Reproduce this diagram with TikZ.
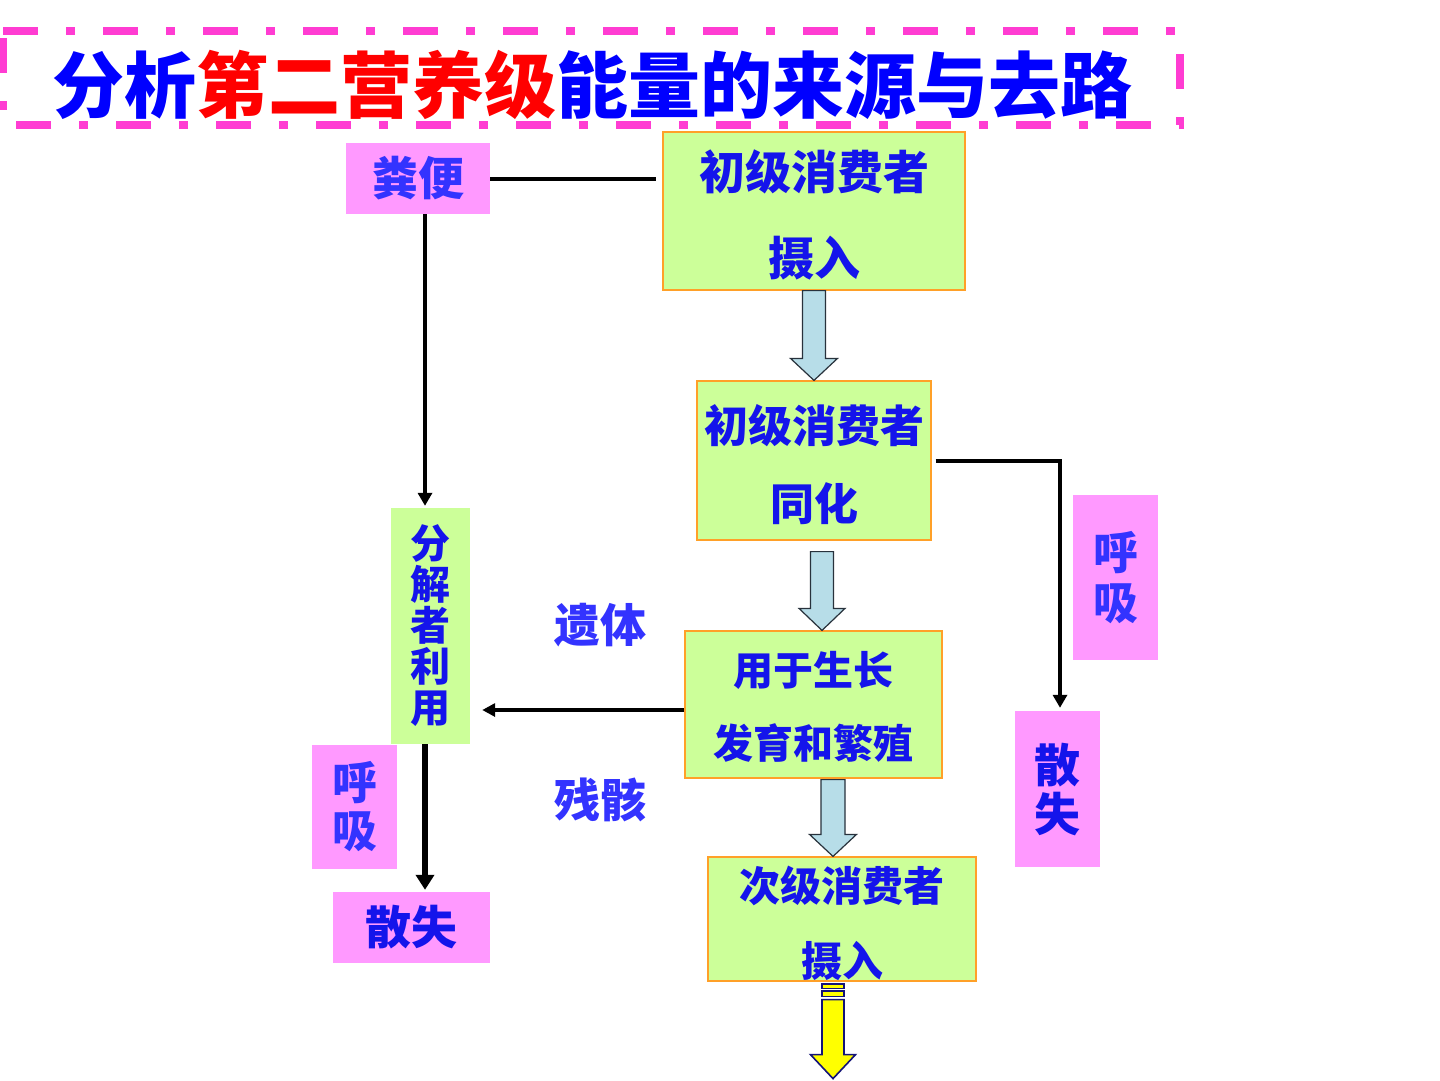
\documentclass[tikz,border=0pt]{standalone}
\usepackage{fontspec}
\newfontfamily\cjk{Noto Sans CJK SC}
\usetikzlibrary{arrows.meta,calc}
\definecolor{boxgreen}{RGB}{204,255,153}
\definecolor{boxedge}{RGB}{255,160,40}
\definecolor{boxpink}{RGB}{255,153,255}
\definecolor{dashpink}{RGB}{255,60,210}
\definecolor{txtblue}{RGB}{20,20,235}
\definecolor{lblblue}{RGB}{51,51,255}
\definecolor{titleblue}{RGB}{0,0,255}
\definecolor{titlered}{RGB}{255,0,0}
\definecolor{fatfill}{RGB}{183,221,232}
\definecolor{fatedge}{RGB}{40,50,60}
\definecolor{yelfill}{RGB}{255,255,0}
\definecolor{yeledge}{RGB}{20,20,120}
% hollow arrow: #1 start, #2 end (y only), #3 style, #4 shaft half, #5 head half, #6 head length
\newcommand\fatarrow[6]{%
  \path[#3] let \p1=#1, \p2=#2 in
    (\x1-#4pt,\y1) -- (\x1+#4pt,\y1) -- (\x1+#4pt,\y2+#6pt) -- (\x1+#5pt,\y2+#6pt)
    -- (\x1,\y2) -- (\x1-#5pt,\y2+#6pt) -- (\x1-#4pt,\y2+#6pt) -- cycle;}
\begin{document}
\begin{tikzpicture}[x=1pt,y=-1pt,
  fnt/.style 2 args={font=\cjk\bfseries\fontsize{#1}{#2}\selectfont},
  greenbox/.style={fill=boxgreen,draw=boxedge,line width=1.2pt,inner sep=0pt,align=center,text=txtblue,text depth=0pt},
  plaingreen/.style={fill=boxgreen,inner sep=0pt,align=center,text=txtblue},
  pinkbox/.style={fill=boxpink,inner sep=0pt,align=center,text=lblblue},
  lbl/.style={inner sep=0pt,text=lblblue},
  conn/.style={line width=4pt,black},
  arr/.style={line width=4pt,black,-{Triangle[width=14pt,length=13pt]}},
  fat/.style={fill=fatfill,draw=fatedge,line width=1.2pt,line join=miter},
  yel/.style={fill=yelfill,draw=yeledge,line width=1.6pt,line join=miter}]
\useasboundingbox (0,0) rectangle (1440,1080);
\fill[white] (0,0) rectangle (1440,1080);

% title
\draw[dashpink,line width=8pt,dash pattern=on 35pt off 28pt on 9pt off 28pt]
  (3,31) -- (1180,31) -- (1180,125) -- (3,125) -- cycle;
\node[inner sep=0pt,fnt={72}{76}] (title) at (592,85)
  {\textcolor{titleblue}{分析}\textcolor{titlered}{第二营养级}\textcolor{titleblue}{能量的来源与去路}};

% boxes
\node[greenbox,fnt={46}{86},text height=129pt,minimum width=302pt,minimum height=158pt] (b1) at (814,211) {初级消费者\\摄入};
\node[greenbox,fnt={44}{78},text height=119.4pt,minimum width=234pt,minimum height=159pt] (b2) at (814,460.5) {初级消费者\\同化};
\node[greenbox,fnt={40}{73},text height=108.4pt,minimum width=257pt,minimum height=147pt] (b3) at (813.5,704.5) {用于生长\\发育和繁殖};
\node[greenbox,fnt={41}{75},text height=114.2pt,minimum width=268pt,minimum height=124pt] (b4) at (842,919) {次级消费者\\摄入};
\node[plaingreen,fnt={40}{41},minimum width=79pt,minimum height=236pt] (fj) at (430.5,626) {分\\解\\者\\利\\用};
\node[pinkbox,fnt={46}{50},minimum width=144pt,minimum height=71pt] (fb) at (418,178.5) {粪便};
\node[pinkbox,fnt={45}{50},minimum width=85pt,minimum height=165pt] (hr) at (1115.5,577.5) {呼\\吸};
\node[pinkbox,fnt={46}{49},minimum width=85pt,minimum height=156pt,text=txtblue] (sr) at (1057.5,789) {散\\失};
\node[pinkbox,fnt={45}{48},minimum width=85pt,minimum height=124pt] (hl) at (354.5,807) {呼\\吸};
\node[pinkbox,fnt={46}{50},minimum width=157pt,minimum height=71pt,text=txtblue] (sl) at (411.5,927.5) {散失};
\node[lbl,fnt={46}{50}] (yt) at (600,625) {遗体};
\node[lbl,fnt={46}{50}] (ch) at (600,800) {残骸};

% connectors
\draw[conn] (fb.east) -- ([xshift=-6pt]fb.east -| b1.west);
\draw[arr] ([xshift=7pt]fb.south) -- ([xshift=7pt,yshift=2pt]fb.south |- fj.north);
\draw[arr,line width=6pt,-{Triangle[width=18pt,length=15pt]}] ([xshift=-5.5pt]fj.south) -- ([xshift=-5.5pt,yshift=2pt]fj.south |- sl.north);
\draw[arr,-{Triangle[width=13pt,length=13pt]}] ($(b3.west)+(0,5.5)$) -- ($(fj.east |- b3.west)+(12,5.5)$);
\draw[arr] ([xshift=4pt]b2.east) -| ($(sr.north)+(2.5,-3)$);

% hollow arrows
\fatarrow{(b1.south)}{(b2.north)}{fat}{11.5}{23.5}{22}
\fatarrow{($(b2.south)+(8,11)$)}{(b3.north)}{fat}{11.5}{23}{22}
\fatarrow{($(b3.south)+(19.5,1)$)}{(b4.north)}{fat}{12}{23.5}{22}

% yellow arrow
\draw[yel] ($(b4.south)+(-20,2.5)$) rectangle ($(b4.south)+(2,7)$);
\draw[yel] ($(b4.south)+(-20,9.5)$) rectangle ($(b4.south)+(2,15)$);
\coordinate (yend) at ($(b4.south)+(-9,97)$);
\fatarrow{($(b4.south)+(-9,18)$)}{(yend)}{yel}{11}{22.5}{24}
\end{tikzpicture}
\end{document}
